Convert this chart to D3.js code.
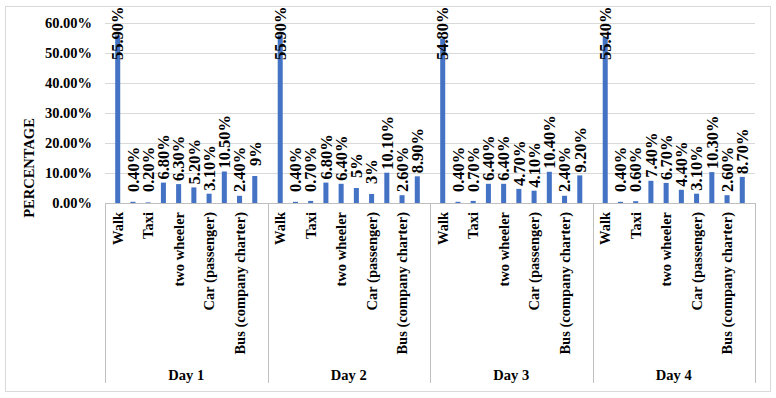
<!DOCTYPE html>
<html>
<head>
<meta charset="utf-8">
<script src="https://cdn.jsdelivr.net/npm/d3@7"></script>
<style>
  body { margin: 0; background: #fff; }
  svg { display: block; font-family: "Liberation Serif", "Times New Roman", serif; font-weight: bold; }
  .grid line { stroke: #d9d9d9; }
  .grid path { display: none; }
  .yaxis path, .yaxis line { display: none; }
  .yaxis text { font-size: 14.5px; fill: #000; font-family: "Liberation Serif", serif; font-weight: bold; }
</style>
</head>
<body>
<div class="mode_chart"></div>
<script>
document.addEventListener("DOMContentLoaded", function () {

  const days = ["Day 1", "Day 2", "Day 3", "Day 4"];
  // only every second mode is printed on the axis
  const modes = ["Walk", "Bicycle", "Taxi", "Auto rickshaw", "two wheeler", "Car (driver)",
    "Car (passenger)", "Bus (public)", "Bus (company charter)", "Others"];
  const day1 = [55.9, 0.4, 0.2, 6.8, 6.3, 5.2, 3.1, 10.5, 2.4, 9];
  const day2 = [55.9, 0.4, 0.7, 6.8, 6.4, 5, 3, 10.1, 2.6, 8.9];
  const day3 = [54.8, 0.4, 0.7, 6.4, 6.4, 4.7, 4.1, 10.4, 2.4, 9.2];
  const day4 = [55.4, 0.4, 0.6, 7.4, 6.7, 4.4, 3.1, 10.3, 2.6, 8.7];
  const yTicks = [0, 10, 20, 30, 40, 50, 60];

  const series = [day1, day2, day3, day4];
  const data = [];
  days.forEach((d, i) => {
    modes.forEach((m, j) => data.push({ day: d, mode: m, idx: j, value: series[i][j] }));
  });

  const W = 776, H = 398;
  const plot = { left: 105, right: 755, top: 23, bottom: 203 };

  const svg = d3.select(".mode_chart").append("svg")
    .attr("width", W).attr("height", H);

  // chart border
  svg.append("rect")
    .attr("x", 5.5).attr("y", 6.5)
    .attr("width", 765).attr("height", 385)
    .attr("fill", "none").attr("stroke", "#d9d9d9");

  const x0 = d3.scaleBand().domain(days).range([plot.left, plot.right]);
  const x1 = d3.scaleBand().domain(modes).range([0, x0.bandwidth()]).padding(0.67);
  const y = d3.scaleLinear().domain([0, 60]).range([plot.bottom, plot.top]);

  svg.append("g")
    .attr("class", "grid")
    .attr("transform", `translate(${plot.left},0)`)
    .call(d3.axisLeft(y).tickValues(yTicks).tickSize(-(plot.right - plot.left)).tickFormat(""));

  svg.append("g")
    .attr("class", "yaxis")
    .attr("transform", `translate(${plot.left},0)`)
    .call(d3.axisLeft(y).tickValues(yTicks).tickSize(0).tickPadding(13)
      .tickFormat((d) => d.toFixed(2) + "%"));

  svg.append("text")
    .attr("transform", `translate(34,168) rotate(-90)`)
    .attr("text-anchor", "middle")
    .style("font-size", "14.5px")
    .text("PERCENTAGE");

  const bx = (d) => x0(d.day) + x1(d.mode);

  svg.selectAll(".bar")
    .data(data)
    .enter()
    .append("rect")
    .attr("class", "bar")
    .attr("x", bx)
    .attr("y", (d) => y(d.value))
    .attr("width", x1.bandwidth())
    .attr("height", (d) => y(0) - y(d.value))
    .attr("fill", "#4472c4");

  const fmt = (v) => (Number.isInteger(v) ? v : v.toFixed(2)) + "%";

  svg.selectAll(".lbl")
    .data(data)
    .enter()
    .append("text")
    .attr("class", "lbl")
    .attr("text-anchor", "start")
    .attr("dy", "0.35em")
    .style("font-size", "16.5px")
    .text((d) => fmt(d.value))
    .each(function (d) {
      const cx = bx(d) + x1.bandwidth() / 2;
      let base = y(d.value) - (Number.isInteger(d.value) ? 10 : 3);
      base = Math.min(base, 192);
      base = Math.max(base, 60);
      d3.select(this).attr("transform", `translate(${cx},${base}) rotate(-90)`);
    });

  // category axis
  const axisG = svg.append("g").attr("stroke", "#bfbfbf").attr("fill", "none");
  axisG.append("line")
    .attr("x1", plot.left).attr("x2", plot.right)
    .attr("y1", plot.bottom + 0.5).attr("y2", plot.bottom + 0.5);
  const seps = days.map((d) => x0(d)).concat([plot.right]);
  axisG.selectAll(".sep")
    .data(seps)
    .enter()
    .append("line")
    .attr("x1", (d) => Math.round(d) + 0.5).attr("x2", (d) => Math.round(d) + 0.5)
    .attr("y1", plot.bottom).attr("y2", 383);

  svg.selectAll(".cat")
    .data(data.filter((d) => d.idx % 2 === 0))
    .enter()
    .append("text")
    .attr("class", "cat")
    .attr("text-anchor", "end")
    .attr("dy", "0.35em")
    .style("font-size", "14.5px")
    .attr("transform", (d) => `translate(${bx(d) + x1.bandwidth() / 2},212) rotate(-90)`)
    .text((d) => d.mode);

  svg.selectAll(".day")
    .data(days)
    .enter()
    .append("text")
    .attr("class", "day")
    .attr("text-anchor", "middle")
    .attr("x", (d) => x0(d) + x0.bandwidth() / 2)
    .attr("y", 380)
    .style("font-size", "14.5px")
    .text((d) => d);
});
</script>
</body>
</html>
